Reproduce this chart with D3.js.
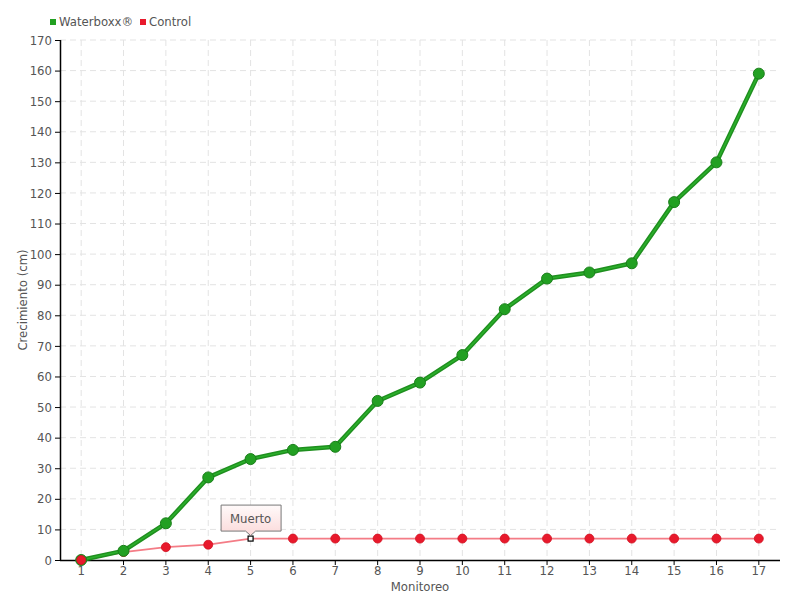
<!DOCTYPE html>
<html><head><meta charset="utf-8">
<script src="https://cdn.jsdelivr.net/npm/d3@7"></script>
<style>
body{margin:0;background:#fff;}
svg text{font-family:"Liberation Sans Narrow","DejaVu Sans Condensed","Roboto",sans-serif;font-stretch:condensed;}
</style></head>
<body><svg id="c" width="800" height="600"></svg>
<script>
const categories = ["1","2","3","4","5","6","7","8","9","10","11","12","13","14","15","16","17"];
const waterboxx = [0,3,12,27,33,36,37,52,58,67,82,92,94,97,117,130,159];
const control = [0,2.6,4.2,5,7,7,7,7,7,7,7,7,7,7,7,7,7];
const yTicks = d3.range(0,171,10);
const seriesNames = ["Waterboxx®","Control"];
const annotationIndex = 4;
const annotationText = "Muerto";

const svg = d3.select("#c");
const L=60,R=780,T=40,B=560;
const FS="13px";
const x = d3.scaleBand().domain(categories).range([L,R]);
const cx = d => x(d)+x.bandwidth()/2;
const y = d3.scaleLinear().domain([0,170]).range([B,T]);

// grid
const grid = svg.append("g");
grid.selectAll(".h").data(yTicks.slice(1)).join("line")
  .attr("x1",L).attr("x2",R).attr("y1",d=>y(d)).attr("y2",d=>y(d))
  .attr("stroke","#e3e3e3").attr("stroke-dasharray","6,4");
grid.selectAll(".v").data(categories).join("line")
  .attr("x1",d=>cx(d)).attr("x2",d=>cx(d)).attr("y1",T).attr("y2",B)
  .attr("stroke","#e3e3e3").attr("stroke-dasharray","6,4");

// axes
const ya = svg.append("g").attr("transform",`translate(${L},0)`)
  .call(d3.axisLeft(y).tickValues(yTicks).tickSize(5).tickPadding(3));
const xa = svg.append("g").attr("transform",`translate(0,${B})`)
  .call(d3.axisBottom(x).tickSize(5).tickPadding(1));
[ya,xa].forEach(a=>{
  a.select(".domain").attr("stroke","#000").attr("stroke-width",1.5);
  a.selectAll(".tick line").attr("stroke","#000");
  a.selectAll("text").attr("fill","#555").style("font-size",FS);
});
xa.select(".domain").attr("d",`M${L},0.5H${R}`);
ya.select(".domain").attr("d",`M0.5,${B}V${T}`);

// titles
svg.append("text").attr("x",420).attr("y",591).attr("text-anchor","middle")
  .attr("fill","#555").style("font-size",FS).text("Monitoreo");
svg.append("text").attr("transform","translate(27,300) rotate(-90)").attr("text-anchor","middle")
  .attr("fill","#555").style("font-size",FS).text("Crecimiento (cm)");

// legend
const lg = svg.append("g");
lg.append("rect").attr("x",50).attr("y",19).attr("width",6).attr("height",6).attr("fill","#22a022");
lg.append("text").attr("x",59).attr("y",26).attr("fill","#555").style("font-size",FS).text(seriesNames[0]);
lg.append("rect").attr("x",140).attr("y",19).attr("width",6).attr("height",6).attr("fill","#e8192c");
lg.append("text").attr("x",149).attr("y",26).attr("fill","#555").style("font-size",FS).text(seriesNames[1]);

const line = d3.line().x((d,i)=>cx(categories[i])).y(d=>y(d));

// control
svg.append("path").datum(control).attr("d",line).attr("fill","none")
  .attr("stroke","#f47c86").attr("stroke-width",1.8);
svg.selectAll(".cp").data(control).join("circle")
  .attr("cx",(d,i)=>cx(categories[i])).attr("cy",d=>y(d)).attr("r",4.5)
  .attr("fill",(d,i)=>i===annotationIndex?"none":"#e8192c")
  .attr("stroke",(d,i)=>i===annotationIndex?"none":"#d0101f").attr("stroke-width",0.8);

// waterboxx
svg.append("path").datum(waterboxx).attr("d",line).attr("fill","none")
  .attr("stroke","#1f8f1f").attr("stroke-width",4.5).attr("stroke-linejoin","round");
svg.append("path").datum(waterboxx).attr("d",line).attr("fill","none")
  .attr("stroke","#2bb02b").attr("stroke-width",1.5);
svg.selectAll(".wp").data(waterboxx).join("circle")
  .attr("cx",(d,i)=>cx(categories[i])).attr("cy",d=>y(d)).attr("r",5.5)
  .attr("fill","#22a022").attr("stroke","#1a7f1a").attr("stroke-width",1);
// red first point on top
svg.append("circle").attr("cx",cx(categories[0])).attr("cy",y(control[0])).attr("r",4.5)
  .attr("fill","#e8192c").attr("stroke","#d0101f").attr("stroke-width",0.8);

// annotation
const ax = cx(categories[annotationIndex]), ay = y(control[annotationIndex]);
svg.append("rect").attr("x",ax-2.5).attr("y",ay-2.5).attr("width",5).attr("height",5)
  .attr("fill","#fff").attr("stroke","#000").attr("stroke-width",1.2);
const defs = svg.append("defs");
const gr = defs.append("linearGradient").attr("id","tg").attr("x1",0).attr("y1",0).attr("x2",0).attr("y2",1);
gr.append("stop").attr("offset","0%").attr("stop-color","#fffafa");
gr.append("stop").attr("offset","100%").attr("stop-color","#fbd9d9");
const bw=60,bh=26,bx=ax-30,by=ay-34;
svg.append("path")
  .attr("d",`M${bx+0.5},${by+0.5}H${bx+bw+0.5}V${by+bh+0.5}H${ax+5}L${ax},${ay-3}L${ax-5},${by+bh+0.5}H${bx+0.5}Z`)
  .attr("fill","url(#tg)").attr("stroke","#777").attr("stroke-width",1);
svg.append("text").attr("x",bx+bw/2).attr("y",by+18).attr("text-anchor","middle")
  .attr("fill","#555").style("font-size",FS).text(annotationText);
</script></body></html>
